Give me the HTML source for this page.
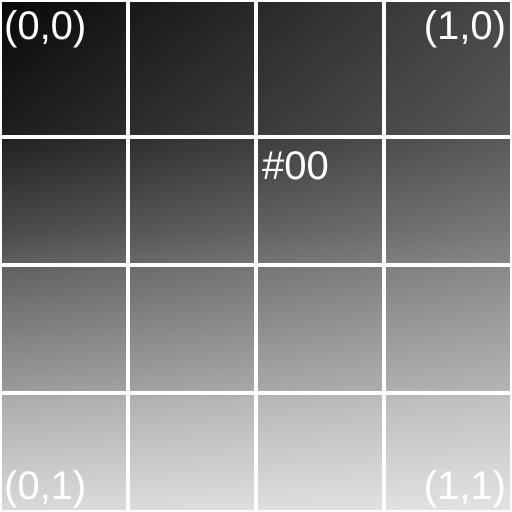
<!DOCTYPE html>
<html><head><style>
body{margin:0;width:512px;height:512px;overflow:hidden;background:#fff;}
#wrap{position:relative;width:512px;height:512px;background:
linear-gradient(to right,rgba(255,255,255,0) 0%,rgba(255,255,255,0.26) 100%),
linear-gradient(to bottom,#080808 0%,#1e1e1e 26%,#4a4a4a 45%,#606060 52%,#9a9a9a 76%,#acacac 78%,#dadada 100%);}
.v,.h{position:absolute;background:#fff;}
.t{position:absolute;color:#fff;font-family:"Liberation Sans",sans-serif;font-size:40px;line-height:1;}
</style></head><body>
<div id="wrap">
<div class="v" style="left:0;top:0;width:2px;height:512px"></div>
<div class="v" style="left:126px;top:0;width:4px;height:512px"></div>
<div class="v" style="left:254px;top:0;width:4px;height:512px"></div>
<div class="v" style="left:382px;top:0;width:4px;height:512px"></div>
<div class="v" style="left:510px;top:0;width:2px;height:512px"></div>
<div class="h" style="left:0;top:0;width:512px;height:2px"></div>
<div class="h" style="left:0;top:135px;width:512px;height:4px"></div>
<div class="h" style="left:0;top:263px;width:512px;height:4px"></div>
<div class="h" style="left:0;top:391px;width:512px;height:4px"></div>
<div class="h" style="left:0;top:510px;width:512px;height:2px"></div>
<div class="t" style="left:4px;top:6px">(0,0)</div>
<div class="t" style="right:6px;top:6px">(1,0)</div>
<div class="t" style="left:262px;top:146px">#00</div>
<div class="t" style="left:4px;top:466px">(0,1)</div>
<div class="t" style="right:6px;top:466px">(1,1)</div>
</div>
</body></html>
